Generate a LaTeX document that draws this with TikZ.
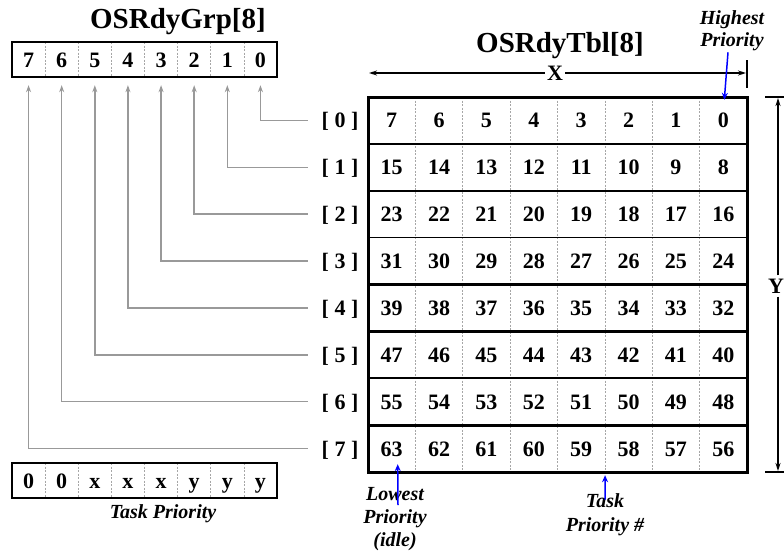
\documentclass[tikz,border=0pt]{standalone}
\usepackage{fontspec}
\setmainfont{Liberation Serif}
\usetikzlibrary{arrows.meta}
\begin{document}
\begin{tikzpicture}[x=1pt,y=-1pt,
  num/.style={font=\fontsize{22}{24}\selectfont\bfseries, inner sep=0pt, text height=15pt, text depth=0pt},
  ttl/.style={font=\fontsize{29}{32}\selectfont\bfseries, inner sep=0pt},
  note/.style={font=\fontsize{20}{22}\selectfont\bfseries\itshape, align=center, inner sep=0pt},
  bitcell/.style={num, minimum width=33.125pt, minimum height=35pt},
  tblcell/.style={num, minimum width=47.375pt, minimum height=46.875pt},
  rowlbl/.style={num, minimum width=64pt},
  conn/.style={draw=gray!80, line width=1.4pt, -{Stealth[length=7pt,width=5pt]}},
  bluearrow/.style={draw=blue, line width=1.5pt, -{Stealth[length=7pt,width=6pt]}},
  dimline/.style={line width=1.3pt, -{Stealth[length=8pt,width=5pt]}},
  frame/.style={line width=2.5pt},
  celldiv/.style={draw=gray!70, line width=0.6pt, dashed, dash pattern=on 2pt off 1.5pt},
]
\useasboundingbox (0,0) rectangle (784,554);

% ---------- OSRdyGrp ----------
\node[ttl] (grptitle) at (178,22) {OSRdyGrp[8]};
\foreach \i in {0,...,7}
  \node[bitcell] (g\i) at ({12+33.125*(7-\i)+16.5625}, 59.5) {\i};
\foreach \k in {1,...,7}
  \draw[celldiv] ({12+33.125*\k},42) -- ({12+33.125*\k},77);
\draw[frame] (12,42) rectangle (277,77);

% ---------- OSRdyTbl ----------
\node[ttl] (tbltitle) at (560,46) {OSRdyTbl[8]};
\foreach \r in {0,...,7}
  \foreach \c in {0,...,7}{
    \pgfmathtruncatemacro\v{8*\r+7-\c}
    \node[tblcell] (t-\r-\c) at ({368+47.375*(\c+0.5)}, {97+46.875*(\r+0.5)}) {\v};
  }
\foreach \c in {1,...,7}
  \draw[celldiv] ({368+47.375*\c},97) -- ({368+47.375*\c},472);
\foreach \r/\w in {1/1.8pt,2/1.8pt,3/1.4pt,4/2.8pt,5/2.8pt,6/1.8pt,7/2.8pt}
  \draw[line width=\w] (368,{97+46.875*\r}) -- (747,{97+46.875*\r});
\draw[line width=3pt] (368,97) rectangle (747,472);

% row indices and the links up to OSRdyGrp
\foreach \r in {0,...,7}{
  \node[rowlbl] (r\r) at (340, {97+46.875*(\r+0.5)}) {[~\r~]};
  \draw[conn, shorten >=8pt] (r\r.west) -| (g\r.south);
}

% ---------- X dimension ----------
\node[num, fill=white, inner xsep=2pt] (xlab) at (555,73) {X};
\coordinate (xl) at (369,73);
\coordinate (xr) at (746,73);
\draw[dimline] (xlab.west) -- (xl);
\draw[dimline] (xlab.east) -- (xr);
\draw[line width=1.3pt] (747,60) -- (747,88);

% ---------- Y dimension ----------
\node[num, fill=white, inner ysep=3pt] (ylab) at (776,286) {Y};
\coordinate (yt) at (778,98);
\coordinate (yb) at (778,471);
\draw[dimline] (ylab.north -| yt) -- (yt);
\draw[dimline] (ylab.south -| yb) -- (yb);
\draw[line width=1.3pt] (765,97) -- (790,97);
\draw[line width=1.3pt] (765,472) -- (790,472);

% ---------- Task priority bits ----------
\node[bitcell] (p7) at ({12+16.5625},480.5) {0};
\node[bitcell] (p6) at ({12+33.125+16.5625},480.5) {0};
\node[bitcell] (p5) at ({12+33.125*2+16.5625},480.5) {x};
\node[bitcell] (p4) at ({12+33.125*3+16.5625},480.5) {x};
\node[bitcell] (p3) at ({12+33.125*4+16.5625},480.5) {x};
\node[bitcell] (p2) at ({12+33.125*5+16.5625},480.5) {y};
\node[bitcell] (p1) at ({12+33.125*6+16.5625},480.5) {y};
\node[bitcell] (p0) at ({12+33.125*7+16.5625},480.5) {y};
\foreach \k in {1,...,7}
  \draw[celldiv] ({12+33.125*\k},463) -- ({12+33.125*\k},498);
\draw[frame] (12,463) rectangle (277,498);
\node[note] (tplab) at (163,514) {Task Priority};

% ---------- annotations ----------
\node[note] (hp) at (732,31) {Highest\\Priority};
\draw[bluearrow] ([xshift=-4pt,yshift=-1pt]hp.south) -- ([xshift=1pt,yshift=-3pt]t-0-7.north);

\node[note, font=\fontsize{20}{23}\selectfont\bfseries\itshape] (lp) at (395,519) {Lowest\\Priority\\(idle)};
\draw[bluearrow] ([xshift=3pt,yshift=-18pt]lp.north) -- ([xshift=6pt,yshift=8pt]t-7-0.south);

\node[note, font=\fontsize{20}{24}\selectfont\bfseries\itshape] (tp) at (605,515) {Task\\Priority \#};
\draw[bluearrow] ([yshift=-6pt]tp.north) -- ([yshift=-3pt]t-7-4.south east);
\end{tikzpicture}
\end{document}
